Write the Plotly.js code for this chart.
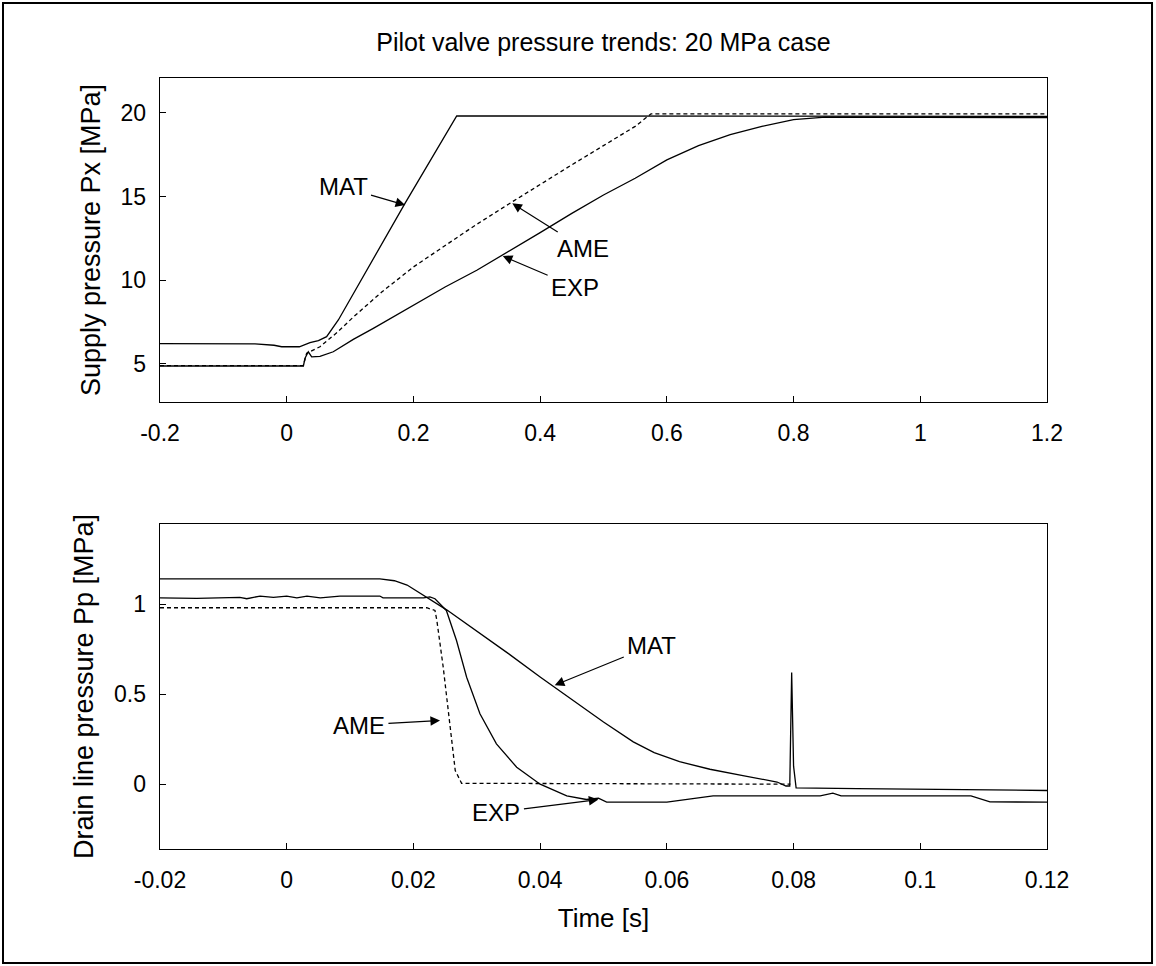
<!DOCTYPE html>
<html>
<head>
<meta charset="utf-8">
<script src="https://cdn.plot.ly/plotly-3.0.1.min.js"></script>
<style>
  html, body { margin: 0; padding: 0; background: #fff; }
  #chart { width: 1156px; height: 966px; }
</style>
</head>
<body>
<div id="chart"></div>
<script>
// ---------- Top panel: supply pressure Px [MPa] vs time [s] ----------
const topMatT = [-0.2, -0.05, -0.02, -0.008, 0.02, 0.0367, 0.05, 0.063, 0.0815, 0.1867, 0.2683, 1.2];
const topMatP = [6.22, 6.2, 6.12, 6.03, 6.03, 6.27, 6.4, 6.63, 7.63, 14.6, 19.82, 19.8];

const topAmeT = [-0.2, 0.026, 0.029, 0.0315, 0.0525, 0.08, 0.105, 0.15, 0.20, 0.25, 0.30, 0.35, 0.40, 0.45, 0.50, 0.55, 0.575, 1.2];
const topAmeP = [4.9, 4.9, 5.3, 5.64, 6.03, 6.9, 7.8, 9.3, 10.8, 12.1, 13.35, 14.55, 15.75, 16.9, 18.05, 19.2, 19.95, 19.95];

const topExpT = [-0.2, 0.0263, 0.0289, 0.0341, 0.0394, 0.0525, 0.0735, 0.1051, 0.1367, 0.158, 0.20, 0.25, 0.30, 0.35, 0.40, 0.45, 0.50, 0.55, 0.60, 0.65, 0.70, 0.75, 0.80, 0.85, 1.2];
const topExpP = [4.88, 4.88, 5.34, 5.73, 5.43, 5.45, 5.73, 6.47, 7.13, 7.6, 8.5, 9.6, 10.6, 11.7, 12.85, 14.0, 15.1, 16.1, 17.2, 18.05, 18.7, 19.2, 19.6, 19.75, 19.72];

// ---------- Bottom panel: drain line pressure Pp [MPa] vs time [s] ----------
const botMatT = [-0.02, 0.0147, 0.017, 0.019, 0.0253, 0.03, 0.035, 0.04, 0.045, 0.05, 0.0547, 0.058, 0.062, 0.0668, 0.072, 0.0774, 0.0788, 0.0794, 0.0797, 0.0800, 0.0804, 0.09, 0.12];
const botMatP = [1.14, 1.14, 1.13, 1.106, 0.967, 0.85, 0.725, 0.595, 0.47, 0.345, 0.235, 0.175, 0.125, 0.083, 0.048, 0.012, -0.01, -0.01, 0.62, 0.1, -0.02, -0.025, -0.035];

const botAmeT = [-0.02, 0.0221, 0.0234, 0.0237, 0.0247, 0.0258, 0.0266, 0.0276, 0.0795];
const botAmeP = [0.98, 0.98, 0.965, 0.909, 0.65, 0.298, 0.076, 0.005, 0.0];

const botExpT = [-0.02, -0.0142, -0.0074, -0.0063, -0.0042, -0.0021, 0.0, 0.0016, 0.0032, 0.0053, 0.0084, 0.0147, 0.0152, 0.0216, 0.0226, 0.0234, 0.0247, 0.0252, 0.0268, 0.0284, 0.0305, 0.0331, 0.0363, 0.0400, 0.0442, 0.0473, 0.0492, 0.0505, 0.0600, 0.0635, 0.0673, 0.0842, 0.0862, 0.0875, 0.108, 0.111, 0.12];
const botExpP = [1.035, 1.032, 1.038, 1.03, 1.045, 1.038, 1.045, 1.035, 1.045, 1.035, 1.045, 1.045, 1.035, 1.035, 1.04, 1.03, 0.983, 0.965, 0.798, 0.594, 0.391, 0.224, 0.094, 0.0, -0.065, -0.085, -0.078, -0.1, -0.1, -0.085, -0.065, -0.065, -0.05, -0.065, -0.065, -0.098, -0.1];

// ---------- Axis ticks ----------
const topXTicks = [-0.2, 0, 0.2, 0.4, 0.6, 0.8, 1, 1.2];
const topXLabels = ['-0.2', '0', '0.2', '0.4', '0.6', '0.8', '1', '1.2'];
const topYTicks = [5, 10, 15, 20];
const topYLabels = ['5', '10', '15', '20'];
const botXTicks = [-0.02, 0, 0.02, 0.04, 0.06, 0.08, 0.1, 0.12];
const botXLabels = ['-0.02', '0', '0.02', '0.04', '0.06', '0.08', '0.1', '0.12'];
const botYTicks = [0, 0.5, 1];
const botYLabels = ['0', '0.5', '1'];

// ---------- Labels ----------
const seriesNames = ['MAT', 'AME', 'EXP'];
const titleText = 'Pilot valve pressure trends: 20 MPa case';
const topYTitle = 'Supply pressure Px [MPa]';
const botYTitle = 'Drain line pressure Pp [MPa]';
const botXTitle = 'Time [s]';

const FONT = 'Liberation Sans, Arial, Helvetica, sans-serif';
const solid = {color: '#000', width: 1.3};
const dashed = {color: '#000', width: 1.3, dash: '4px,3px'};

const traces = [
  {x: topMatT, y: topMatP, xaxis: 'x', yaxis: 'y', mode: 'lines', line: solid, name: seriesNames[0]},
  {x: topAmeT, y: topAmeP, xaxis: 'x', yaxis: 'y', mode: 'lines', line: dashed, name: seriesNames[1]},
  {x: topExpT, y: topExpP, xaxis: 'x', yaxis: 'y', mode: 'lines', line: solid, name: seriesNames[2]},
  {x: botMatT, y: botMatP, xaxis: 'x2', yaxis: 'y2', mode: 'lines', line: solid, name: seriesNames[0]},
  {x: botAmeT, y: botAmeP, xaxis: 'x2', yaxis: 'y2', mode: 'lines', line: dashed, name: seriesNames[1]},
  {x: botExpT, y: botExpP, xaxis: 'x2', yaxis: 'y2', mode: 'lines', line: solid, name: seriesNames[2]}
];

const axisBase = {
  showline: true, linecolor: '#000', linewidth: 1.4, mirror: true,
  ticks: 'inside', ticklen: 6, tickwidth: 1, tickcolor: '#000',
  showgrid: false, zeroline: false, automargin: false,
  tickfont: {family: FONT, size: 23, color: '#000'}, tickmode: 'array'
};

function arrowNote(text, xh, yh, xt, yt, xr, yr) {
  return {
    text: text, x: xh, y: yh, ax: xt, ay: yt, xref: xr, yref: yr, axref: xr, ayref: yr,
    showarrow: true, arrowhead: 2, arrowsize: 1.6, arrowwidth: 1.2, arrowcolor: '#000',
    standoff: 0, startstandoff: 2,
    font: {family: FONT, size: 24, color: '#000'}
  };
}

const layout = {
  width: 1156, height: 966,
  margin: {l: 160, r: 109, t: 78, b: 117},
  paper_bgcolor: '#fff', plot_bgcolor: '#fff',
  showlegend: false,
  title: {text: titleText, x: 0.5, xref: 'paper', xanchor: 'center', y: 1 - 42 / 966, yanchor: 'middle',
          font: {family: FONT, size: 25, color: '#000'}},
  xaxis: Object.assign({}, axisBase, {domain: [0, 1], anchor: 'y', range: [-0.2, 1.2],
          tickvals: topXTicks, ticktext: topXLabels, ticklabelstandoff: 10}),
  yaxis: Object.assign({}, axisBase, {domain: [0.5798, 1], anchor: 'x', range: [2.73, 22.09],
          tickvals: topYTicks, ticktext: topYLabels, ticklabelstandoff: 8,
          title: {text: topYTitle, standoff: 12, font: {family: FONT, size: 27, color: '#000'}}}),
  xaxis2: Object.assign({}, axisBase, {domain: [0, 1], anchor: 'y2', range: [-0.02, 0.12],
          tickvals: botXTicks, ticktext: botXLabels, ticklabelstandoff: 10,
          title: {text: botXTitle, standoff: 16, font: {family: FONT, size: 26, color: '#000'}}}),
  yaxis2: Object.assign({}, axisBase, {domain: [0, 0.4215], anchor: 'x2', range: [-0.36, 1.445],
          tickvals: botYTicks, ticktext: botYLabels, ticklabelstandoff: 8,
          title: {text: botYTitle, standoff: 12, font: {family: FONT, size: 27, color: '#000'}}}),
  annotations: [
    arrowNote('MAT', 0.187, 14.5, 0.089, 15.58, 'x', 'y'),
    arrowNote('AME', 0.356, 14.6, 0.468, 11.93, 'x', 'y'),
    arrowNote('EXP', 0.341, 11.45, 0.455, 9.6, 'x', 'y'),
    arrowNote('MAT', 0.0423, 0.55, 0.0576, 0.77, 'x2', 'y2'),
    arrowNote('AME', 0.0242, 0.354, 0.0114, 0.328, 'x2', 'y2'),
    arrowNote('EXP', 0.0492, -0.085, 0.0331, -0.156, 'x2', 'y2')
  ],
  shapes: [
    {type: 'rect', xref: 'paper', yref: 'paper', x0: -0.177, x1: 1.1184, y0: -0.1479, y1: 1.0973,
     line: {color: '#000', width: 2}, fillcolor: 'rgba(0,0,0,0)', layer: 'above'}
  ]
};

Plotly.newPlot('chart', traces, layout, {staticPlot: true, displayModeBar: false});
</script>
</body>
</html>
